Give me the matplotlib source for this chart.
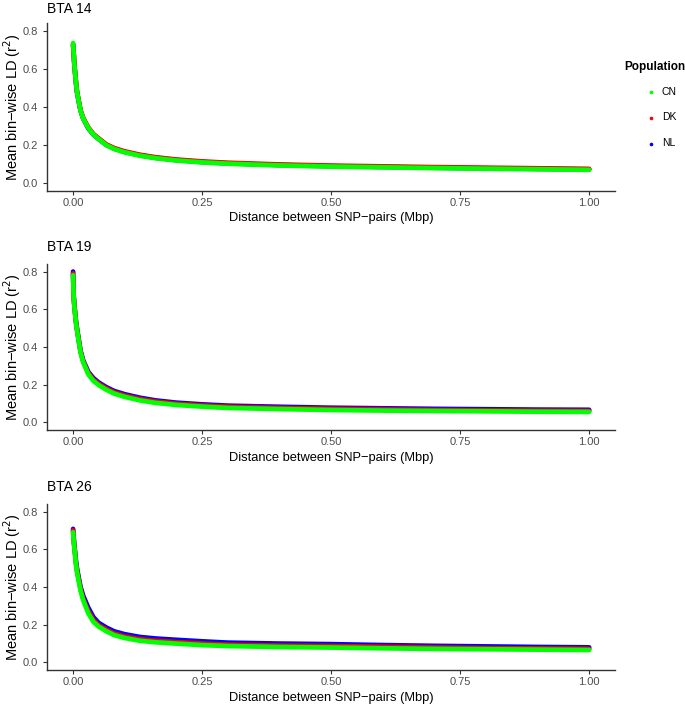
import matplotlib
matplotlib.use("Agg")
from matplotlib import pyplot as plt
from matplotlib.lines import Line2D

plt.rcParams['font.family'] = ['Liberation Sans', 'DejaVu Sans']

# distance between SNP pairs (Mbp)
dist = [0.0005, 0.0015, 0.0025, 0.004, 0.006, 0.008, 0.01, 0.015, 0.02, 0.03,
        0.04, 0.05, 0.065, 0.08, 0.1, 0.13, 0.16, 0.2, 0.25, 0.3,
        0.4, 0.5, 0.6, 0.7, 0.8, 0.9, 1.0]

pops = ['CN', 'DK', 'NL']
colors = {'CN': '#00ff00', 'DK': '#ff0000', 'NL': '#0000ff'}
chroms = ['BTA 14', 'BTA 19', 'BTA 26']

bta14_cn = [0.735, 0.69, 0.64, 0.59, 0.53, 0.48, 0.45, 0.38, 0.34, 0.29,
            0.255, 0.232, 0.2, 0.18, 0.163, 0.145, 0.132, 0.12, 0.11, 0.103,
            0.094, 0.088, 0.084, 0.080, 0.077, 0.074, 0.071]
bta14_dk = [0.73, 0.69, 0.643, 0.593, 0.533, 0.483, 0.453, 0.383, 0.343, 0.293,
            0.258, 0.236, 0.204, 0.185, 0.168, 0.15, 0.137, 0.125, 0.115, 0.108,
            0.099, 0.093, 0.089, 0.085, 0.082, 0.079, 0.076]
bta14_nl = [0.725, 0.687, 0.64, 0.59, 0.53, 0.48, 0.45, 0.38, 0.34, 0.288,
            0.255, 0.232, 0.201, 0.182, 0.165, 0.147, 0.134, 0.122, 0.112, 0.105,
            0.096, 0.090, 0.086, 0.082, 0.079, 0.076, 0.073]

bta19_cn = [0.78, 0.67, 0.63, 0.585, 0.53, 0.49, 0.455, 0.37, 0.32, 0.255,
            0.22, 0.198, 0.173, 0.153, 0.136, 0.117, 0.104, 0.093, 0.084, 0.077,
            0.071, 0.066, 0.063, 0.061, 0.059, 0.057, 0.056]
bta19_dk = [0.79, 0.675, 0.635, 0.59, 0.535, 0.495, 0.46, 0.375, 0.325, 0.262,
            0.227, 0.205, 0.18, 0.16, 0.143, 0.124, 0.111, 0.099, 0.09, 0.083,
            0.077, 0.072, 0.069, 0.066, 0.064, 0.062, 0.061]
bta19_nl = [0.80, 0.677, 0.64, 0.595, 0.54, 0.5, 0.465, 0.38, 0.33, 0.268,
            0.235, 0.212, 0.187, 0.167, 0.15, 0.131, 0.117, 0.105, 0.096, 0.089,
            0.083, 0.078, 0.075, 0.072, 0.070, 0.068, 0.067]

bta26_cn = [0.69, 0.65, 0.62, 0.58, 0.52, 0.48, 0.45, 0.38, 0.33, 0.26,
            0.215, 0.19, 0.165, 0.145, 0.13, 0.115, 0.107, 0.1, 0.092, 0.087,
            0.082, 0.079, 0.075, 0.072, 0.070, 0.068, 0.066]
bta26_dk = [0.70, 0.66, 0.625, 0.585, 0.53, 0.49, 0.46, 0.39, 0.34, 0.272,
            0.225, 0.198, 0.173, 0.153, 0.138, 0.123, 0.115, 0.108, 0.1, 0.094,
            0.089, 0.087, 0.083, 0.079, 0.076, 0.074, 0.072]
bta26_nl = [0.708, 0.67, 0.635, 0.595, 0.54, 0.5, 0.47, 0.4, 0.355, 0.29,
            0.24, 0.21, 0.185, 0.165, 0.15, 0.135, 0.127, 0.12, 0.112, 0.105,
            0.1, 0.097, 0.092, 0.088, 0.085, 0.082, 0.080]

ld = {
    'BTA 14': {'CN': bta14_cn, 'DK': bta14_dk, 'NL': bta14_nl},
    'BTA 19': {'CN': bta19_cn, 'DK': bta19_dk, 'NL': bta19_nl},
    'BTA 26': {'CN': bta26_cn, 'DK': bta26_dk, 'NL': bta26_nl},
}

W, H = 685, 707
fig = plt.figure(figsize=(W / 100, H / 100), dpi=100)

# panel boxes in pixels: left, top, right, bottom
boxes = [(47, 23, 615, 191), (47, 264, 615, 430), (47, 504, 615, 670)]
xlab_y = [217.5, 458, 698]
title_y = [9, 247.5, 487]
axcol = '#333333'

for chrom, (l, t, r, b), xy, ty in zip(chroms, boxes, xlab_y, title_y):
    ax = fig.add_axes([l / W, 1 - b / H, (r - l) / W, (b - t) / H])
    for p in ['NL', 'DK', 'CN']:
        ax.plot(dist, ld[chrom][p], color=colors[p], lw=3.4,
                solid_capstyle='round', solid_joinstyle='round')
    ax.set_xlim(-0.05, 1.05)
    ax.set_ylim(-0.04, 0.84)
    ax.set_xticks([0, 0.25, 0.5, 0.75, 1.0])
    ax.set_xticklabels(['0.00', '0.25', '0.50', '0.75', '1.00'])
    ax.set_yticks([0, 0.2, 0.4, 0.6, 0.8])
    ax.set_yticklabels(['0.0', '0.2', '0.4', '0.6', '0.8'])
    for s in ['top', 'right']:
        ax.spines[s].set_visible(False)
    for s in ['left', 'bottom']:
        ax.spines[s].set_color(axcol)
        ax.spines[s].set_linewidth(1.0)
    ax.tick_params(colors=axcol, labelcolor='#4d4d4d', labelsize=8,
                   length=3, width=0.8)
    ax.tick_params(axis='x', pad=2.2)
    ax.tick_params(axis='y', pad=3.5)
    fig.text(12 / W, 1 - (t + b) / 2 / H, 'Mean bin\u2212wise LD (r$^2$)',
             fontsize=10.5, rotation=90, ha='center', va='center')
    fig.text((l + r) / 2 / W, 1 - xy / H,
             'Distance between SNP\u2212pairs (Mbp)', fontsize=9.3,
             ha='center', va='center')
    fig.text(l / W, 1 - ty / H, chrom, fontsize=10, ha='left', va='center')

# legend
fig.text(624 / W, 1 - 67 / H, 'Population', fontsize=8.5, fontweight='bold',
         ha='left', va='center')
leg_y = [92, 117.5, 143.5]
for p, ly in zip(pops, leg_y):
    yy = 1 - ly / H
    fig.add_artist(Line2D([651 / W], [yy], marker='o', markersize=1.6,
                          color=colors[p], linestyle='none'))
    fig.text(662 / W, yy, p, fontsize=7.5, ha='left', va='center')

fig.savefig('out.png', dpi=100)
